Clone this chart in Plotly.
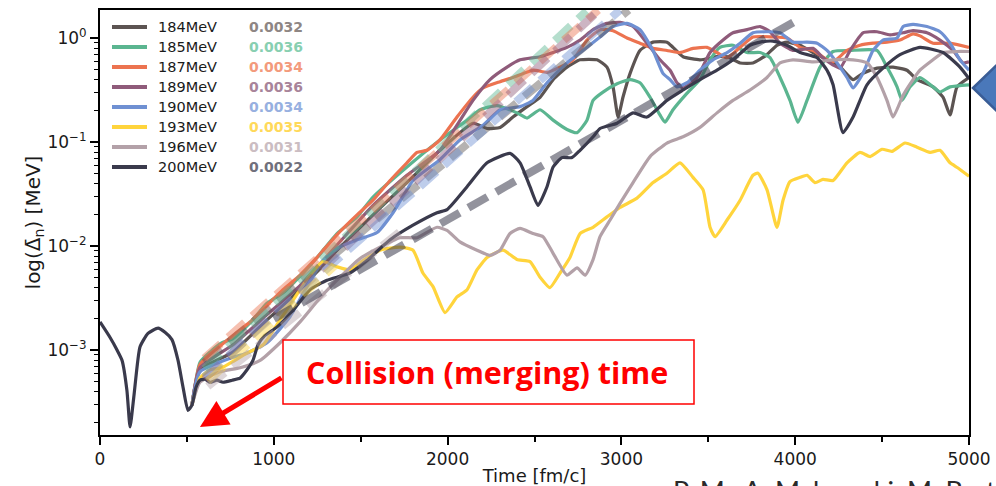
import numpy as np
import plotly.graph_objects as go

# ---------------- data ----------------
energies = ["184MeV", "185MeV", "187MeV", "189MeV", "190MeV", "193MeV", "196MeV", "200MeV"]
growth_rates = ["0.0032", "0.0036", "0.0034", "0.0036", "0.0034", "0.0035", "0.0031", "0.0022"]

# time [fm/c] and log10(gap [MeV]) for each energy
t_184 = [529, 575, 765, 961, 1151, 1364, 1571, 1766, 1956, 2146, 2227, 2302, 2376, 2457, 2532, 2607, 2687,
         2762, 2860, 2917, 2952, 2981, 3009, 3050, 3107, 3182, 3262, 3297, 3355, 3452, 3550, 3608, 3683, 3757,
         3838, 3895, 3953, 4028, 4103, 4183, 4258, 4333, 4390, 4471, 4563, 4643, 4701, 4793, 4851, 4891, 4931, 5000]
log_184 = [-3.53, -3.19, -3.02, -2.71, -2.42, -2.04, -1.70, -1.39, -1.08, -0.82, -0.87, -0.86, -0.76, -0.66,
           -0.57, -0.40, -0.28, -0.21, -0.21, -0.28, -0.47, -0.76, -0.57, -0.34, -0.12, -0.04, -0.04, -0.09,
           -0.18, -0.21, -0.18, -0.18, -0.24, -0.24, -0.16, -0.07, -0.04, -0.07, -0.14, -0.21, -0.28, -0.40,
           -0.34, -0.29, -0.28, -0.31, -0.40, -0.47, -0.57, -0.74, -0.47, -0.38]

t_185 = [529, 575, 633, 702, 765, 863, 961, 1053, 1168, 1249, 1364, 1479, 1571, 1766, 1956, 2112, 2187, 2284,
         2399, 2457, 2532, 2607, 2687, 2745, 2802, 2837, 2894, 2975, 3050, 3107, 3165, 3222, 3251, 3297, 3378,
         3452, 3510, 3567, 3642, 3723, 3798, 3855, 3913, 3970, 4016, 4068, 4143, 4218, 4316, 4471, 4528, 4586,
         4615, 4661, 4718, 4793, 4833, 4891, 5000]
log_185 = [-3.53, -3.12, -3.02, -2.93, -2.89, -2.74, -2.55, -2.45, -2.26, -2.11, -1.88, -1.72, -1.53, -1.24,
           -0.98, -0.79, -0.69, -0.65, -0.72, -0.77, -0.69, -0.79, -0.88, -0.91, -0.79, -0.60, -0.52, -0.44,
           -0.40, -0.43, -0.57, -0.74, -0.81, -0.69, -0.53, -0.40, -0.21, -0.09, -0.07, -0.14, -0.14, -0.19,
           -0.38, -0.60, -0.81, -0.60, -0.28, -0.13, -0.12, -0.12, -0.28, -0.47, -0.60, -0.47, -0.38, -0.47,
           -0.52, -0.47, -0.45]

t_187 = [529, 575, 662, 765, 863, 961, 1053, 1151, 1249, 1364, 1479, 1571, 1669, 1766, 1824, 1882, 1956, 2054,
         2146, 2204, 2302, 2376, 2491, 2572, 2647, 2722, 2802, 2877, 2952, 3032, 3107, 3182, 3262, 3337, 3412,
         3493, 3550, 3608, 3683, 3757, 3872, 3953, 4028, 4103, 4183, 4218, 4298, 4373, 4448, 4528, 4603, 4678,
         4718, 4793, 4891, 5000]
log_187 = [-3.53, -3.14, -3.00, -2.86, -2.73, -2.57, -2.42, -2.28, -2.11, -1.89, -1.70, -1.56, -1.37, -1.20,
           -1.10, -1.08, -0.98, -0.76, -0.57, -0.48, -0.42, -0.38, -0.31, -0.33, -0.28, -0.21, -0.02, 0.08,
           0.07, 0.00, -0.05, -0.10, -0.12, -0.14, -0.10, -0.09, -0.14, -0.19, -0.09, 0.01, 0.01, 0.00, -0.09,
           -0.12, -0.21, -0.23, -0.12, -0.07, -0.05, -0.04, -0.02, 0.04, 0.02, -0.05, -0.05, -0.09]

t_189 = [529, 575, 765, 961, 1151, 1364, 1571, 1766, 1956, 2146, 2244, 2342, 2417, 2532, 2607, 2687, 2762, 2837,
         2917, 2992, 3067, 3147, 3222, 3280, 3320, 3355, 3435, 3510, 3585, 3642, 3723, 3798, 3855, 3913, 3987,
         4103, 4160, 4218, 4258, 4316, 4390, 4471, 4546, 4621, 4678, 4758, 4833, 4908, 4966, 5000]
log_189 = [-3.53, -3.17, -2.95, -2.66, -2.38, -1.99, -1.61, -1.32, -1.08, -0.60, -0.40, -0.28, -0.21, -0.18,
           -0.14, -0.09, -0.02, 0.08, 0.14, 0.15, 0.11, -0.05, -0.21, -0.31, -0.43, -0.48, -0.38, -0.14, -0.02,
           0.05, 0.08, 0.11, 0.06, -0.05, -0.12, -0.10, -0.19, -0.26, -0.29, -0.12, 0.05, 0.06, 0.03, 0.05,
           0.07, 0.05, -0.02, -0.12, -0.24, -0.23]

t_190 = [529, 575, 765, 846, 961, 1093, 1191, 1283, 1381, 1479, 1594, 1686, 1801, 1956, 2071, 2204, 2302, 2417,
         2491, 2572, 2687, 2779, 2877, 2952, 3032, 3107, 3182, 3239, 3280, 3320, 3378, 3452, 3527, 3608, 3683,
         3757, 3838, 3913, 3987, 4068, 4126, 4183, 4241, 4298, 4333, 4390, 4448, 4505, 4586, 4621, 4678, 4758,
         4833, 4891, 4948, 5000]
log_190 = [-3.53, -3.21, -3.07, -3.03, -2.93, -2.68, -2.39, -2.14, -2.01, -1.94, -1.87, -1.68, -1.37, -1.17,
           -0.98, -0.84, -0.69, -0.66, -0.60, -0.43, -0.24, -0.12, 0.01, 0.11, 0.14, 0.08, -0.12, -0.34, -0.40,
           -0.47, -0.43, -0.31, -0.21, -0.14, -0.05, 0.05, 0.06, 0.05, -0.04, -0.04, -0.05, -0.12, -0.24, -0.38,
           -0.48, -0.34, -0.12, -0.02, 0.00, 0.11, 0.13, 0.11, 0.06, -0.05, -0.21, -0.31]

t_193 = [529, 575, 633, 702, 765, 846, 938, 1036, 1151, 1208, 1283, 1364, 1438, 1513, 1611, 1726, 1801, 1858,
         1916, 1985, 2054, 2112, 2169, 2227, 2319, 2399, 2474, 2532, 2589, 2647, 2704, 2762, 2837, 2917, 2992,
         3090, 3182, 3262, 3337, 3412, 3470, 3510, 3539, 3608, 3683, 3757, 3786, 3838, 3895, 3930, 3970, 4028,
         4068, 4114, 4160, 4218, 4298, 4373, 4431, 4500, 4557, 4632, 4701, 4776, 4833, 4891, 4937, 5000]
log_193 = [-3.53, -3.27, -3.19, -3.17, -3.11, -3.03, -2.95, -2.71, -2.42, -2.28, -2.15, -2.20, -2.23, -2.14,
           -2.04, -2.01, -2.04, -2.26, -2.39, -2.64, -2.49, -2.42, -2.23, -2.11, -2.04, -2.13, -2.15, -2.30,
           -2.40, -2.26, -2.11, -1.88, -1.82, -1.72, -1.63, -1.54, -1.39, -1.30, -1.20, -1.34, -1.46, -1.82,
           -1.91, -1.75, -1.56, -1.32, -1.30, -1.46, -1.82, -1.56, -1.38, -1.34, -1.32, -1.39, -1.36, -1.37,
           -1.20, -1.10, -1.14, -1.07, -1.09, -1.01, -1.05, -1.10, -1.08, -1.20, -1.25, -1.33]

t_196 = [529, 575, 690, 806, 921, 1036, 1151, 1266, 1381, 1496, 1611, 1726, 1824, 1939, 1997, 2071, 2169, 2244,
         2302, 2359, 2417, 2491, 2549, 2607, 2687, 2745, 2791, 2837, 2877, 2935, 2992, 3067, 3165, 3262, 3355,
         3452, 3550, 3642, 3740, 3838, 3913, 3987, 4103, 4218, 4333, 4413, 4471, 4528, 4563, 4621, 4678, 4718,
         4793, 4851, 4931, 5000]
log_196 = [-3.53, -3.31, -3.21, -3.17, -3.10, -2.93, -2.73, -2.50, -2.30, -2.12, -2.01, -1.92, -1.92, -1.82,
           -1.85, -1.96, -2.04, -2.09, -2.04, -1.88, -1.83, -1.88, -1.91, -2.07, -2.28, -2.21, -2.28, -2.13,
           -1.91, -1.75, -1.59, -1.39, -1.14, -1.01, -0.95, -0.86, -0.72, -0.60, -0.50, -0.38, -0.24, -0.21,
           -0.23, -0.21, -0.21, -0.24, -0.38, -0.60, -0.76, -0.55, -0.40, -0.31, -0.21, -0.14, -0.13, -0.13]

t_200 = [0, 58, 98, 127, 155, 173, 196, 230, 276, 334, 374, 414, 449, 478, 506, 529, 552, 575, 604, 633, 673,
         708, 760, 806, 846, 880, 909, 949, 1018, 1110, 1208, 1306, 1438, 1536, 1669, 1801, 1939, 1997, 2112,
         2227, 2359, 2417, 2474, 2520, 2572, 2607, 2658, 2716, 2762, 2837, 2877, 2975, 3067, 3147, 3262, 3355,
         3452, 3550, 3642, 3740, 3798, 3872, 3953, 4028, 4126, 4183, 4218, 4275, 4333, 4413, 4505, 4603, 4718,
         4851, 4948, 5000]
log_200 = [-2.73, -2.88, -3.00, -3.10, -3.39, -3.74, -3.43, -2.97, -2.84, -2.79, -2.83, -2.90, -3.10, -3.36,
           -3.58, -3.53, -3.36, -3.29, -3.28, -3.31, -3.29, -3.31, -3.29, -3.27, -3.19, -3.10, -2.95, -2.86,
           -2.78, -2.62, -2.42, -2.33, -2.26, -2.14, -1.94, -1.80, -1.68, -1.65, -1.43, -1.20, -1.11, -1.20,
           -1.43, -1.61, -1.43, -1.24, -1.15, -1.15, -1.08, -0.95, -0.87, -0.82, -0.72, -0.76, -0.60, -0.50,
           -0.40, -0.31, -0.21, -0.07, -0.04, -0.03, -0.07, -0.14, -0.19, -0.31, -0.45, -0.91, -0.76, -0.45,
           -0.29, -0.16, -0.09, -0.14, -0.28, -0.39]

# exponential-growth fits (straight lines on the log axis): start/end time and log10 value
fit_t_start = [600, 600, 600, 600, 600, 620, 620, 1000]
fit_t_end = [3042, 2800, 2867, 2860, 2992, 1350, 1750, 4020]
fit_log_start = [-3.12, -3.18, -3.08, -3.28, -3.26, -3.30, -3.35, -2.70]
fit_log_end = [0.27, 0.26, 0.27, 0.25, 0.27, -2.19, -1.83, 0.18]

# ---------------- styles ----------------
line_colors = ["#5c5452", "#5bb590", "#ec7350", "#8f5b7a", "#6f90d2", "#ffd43c", "#b3a1a8", "#3a3a4c"]
rate_colors = ["#8e8684", "#88cfb1", "#f39a7c", "#a8849a", "#97b0e0", "#ffd95a", "#cbbdc2", "#70707c"]

series_t = [t_184, t_185, t_187, t_189, t_190, t_193, t_196, t_200]
series_log = [log_184, log_185, log_187, log_189, log_190, log_193, log_196, log_200]
for a, b in zip(series_t, series_log):
    assert len(a) == len(b)


def rgba(hex_color, alpha):
    h = hex_color.lstrip("#")
    r, g, b = int(h[0:2], 16), int(h[2:4], 16), int(h[4:6], 16)
    return f"rgba({r},{g},{b},{alpha})"


fig = go.Figure()

for name, t, lg, col in zip(energies, series_t, series_log, line_colors):
    fig.add_trace(go.Scatter(
        x=t, y=10 ** np.array(lg), mode="lines", name=name,
        line=dict(color=col, width=3.2, shape="spline", smoothing=0.5),
        showlegend=False, hoverinfo="skip"))

for i, col in enumerate(line_colors):
    alpha = 0.55 if i == 7 else 0.45
    fig.add_trace(go.Scatter(
        x=[fit_t_start[i], fit_t_end[i]],
        y=[10 ** fit_log_start[i], 10 ** fit_log_end[i]],
        mode="lines", line=dict(color=rgba(col, alpha), width=8, dash="22px,10px"),
        showlegend=False, hoverinfo="skip"))

# ---------------- axes ----------------
W, H = 996, 486
L, R, T, B = 100, 969, 10, 435
font_main = "DejaVu Sans"

fig.update_xaxes(
    range=[0, 5000], tickvals=[0, 1000, 2000, 3000, 4000, 5000],
    ticks="outside", ticklen=8, tickwidth=1.5, tickcolor="black",
    minor=dict(ticks="outside", ticklen=5, tickwidth=1.5, tickcolor="black", dtick=500, showgrid=False),
    showline=True, linecolor="black", linewidth=2, mirror=True,
    showgrid=False, zeroline=False, automargin=False,
    tickfont=dict(family=font_main, size=17, color="#1a1a1a"),
    title=dict(text="Time [fm/c]", font=dict(family=font_main, size=18, color="#1a1a1a"), standoff=4))

minor_vals = [m * 10.0 ** e for e in range(-4, 1) for m in range(2, 10)]
fig.update_yaxes(
    type="log", range=[-3.817, 0.269],
    tickvals=[1e-3, 1e-2, 1e-1, 1],
    ticktext=["10<sup>\u22123</sup>", "10<sup>\u22122</sup>", "10<sup>\u22121</sup>", "10<sup>0</sup>"],
    ticks="outside", ticklen=8, tickwidth=1.5, tickcolor="black",
    minor=dict(ticks="outside", ticklen=4, tickwidth=1.2, tickcolor="black", tickvals=minor_vals,
               showgrid=False),
    showline=True, linecolor="black", linewidth=2, mirror=True,
    showgrid=False, zeroline=False, automargin=False,
    tickfont=dict(family=font_main, size=17, color="#1a1a1a"),
    title=dict(text="log(\u0394\u0304<sub>n</sub>) [MeV]", font=dict(family=font_main, size=20, color="#1a1a1a"),
               standoff=0))


def px_x(px):
    return (px - L) / (R - L)


def px_y(py):
    return (B - py) / (B - T)


shapes = []
annotations = []

# legend
for i in range(len(energies)):
    yy = px_y(27 + 20 * i)
    shapes.append(dict(type="line", xref="paper", yref="paper", x0=px_x(112), x1=px_x(147), y0=yy, y1=yy,
                       line=dict(color=line_colors[i], width=4)))
    annotations.append(dict(xref="paper", yref="paper", x=px_x(156), y=yy, xanchor="left", yanchor="middle",
                            text=energies[i], showarrow=False,
                            font=dict(family=font_main, size=14.5, color="#1a1a1a")))
    annotations.append(dict(xref="paper", yref="paper", x=px_x(247), y=yy, xanchor="left", yanchor="middle",
                            text="<b>" + growth_rates[i] + "</b>", showarrow=False,
                            font=dict(family=font_main, size=14, color=rate_colors[i])))

# collision label box
shapes.append(dict(type="rect", xref="paper", yref="paper", x0=px_x(283), x1=px_x(694), y0=px_y(404),
                   y1=px_y(340), fillcolor="white", line=dict(color="#ff0000", width=1.5), layer="above"))
annotations.append(dict(xref="paper", yref="paper", x=px_x(487), y=px_y(372), xanchor="center",
                        yanchor="middle", text="<b>Collision (merging) time</b>", showarrow=False,
                        font=dict(family="Open Sans", size=30.5, color="#ff0000")))
annotations.append(dict(xref="x", yref="y", x=575, y=-3.74, text="", showarrow=True, arrowhead=2,
                        arrowsize=1.1, arrowwidth=5, arrowcolor="#ff0000", ax=83, ay=-50,
                        axref="pixel", ayref="pixel"))

# blue arrow fragment on the right
tip_x, top_y, bot_y, mid_y = px_x(973), px_y(62), px_y(114), px_y(88)
shapes.append(dict(type="path", xref="paper", yref="paper",
                   path=f"M {tip_x},{mid_y} L {px_x(1000)},{top_y} L {px_x(1000)},{bot_y} Z",
                   fillcolor="#4a78ba", line=dict(color="#3a5d96", width=2.5), layer="above"))

# cut-off author line at the bottom
annotations.append(dict(xref="paper", yref="paper", x=px_x(671), y=px_y(472), xanchor="left", yanchor="top",
                        text="P. M., A. Makowski, M. Barton", showarrow=False,
                        font=dict(family="Lato", size=27, color="#2a2a2a")))

fig.update_layout(
    width=W, height=H,
    margin=dict(l=L, r=W - R, t=T, b=H - B, pad=0, autoexpand=False),
    paper_bgcolor="white", plot_bgcolor="white",
    shapes=shapes, annotations=annotations,
    showlegend=False,
)

fig.write_html("out.html", config={"displayModeBar": False},
               post_script="document.body.style.margin='0';document.body.style.overflow='hidden';")
